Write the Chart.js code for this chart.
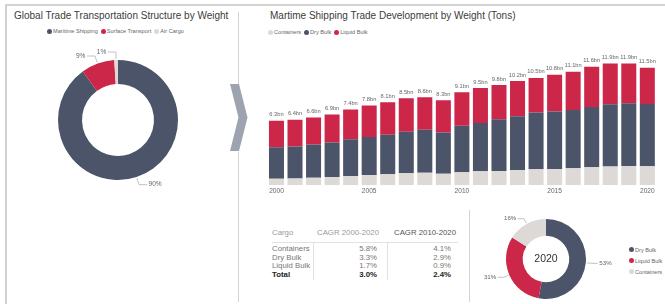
<!DOCTYPE html>
<html>
<head>
<meta charset="utf-8">
<script src="https://cdn.jsdelivr.net/npm/chart.js@4/dist/chart.umd.min.js"></script>
<style>
  html,body{margin:0;padding:0;background:#fff;}
  body{width:665px;height:304px;position:relative;overflow:hidden;font-family:"Liberation Sans",Arial,sans-serif;}
  .abs{position:absolute;}
  .title{font-size:10px;color:#3c3c3c;white-space:nowrap;}
  .leg{font-size:5.6px;color:#666;white-space:nowrap;display:flex;align-items:center;}
  .dot{display:inline-block;width:5px;height:5px;border-radius:50%;margin-right:1px;}
  .legitem{display:flex;align-items:center;margin-right:3px;}
  .cell{position:absolute;font-size:7.8px;white-space:nowrap;height:10px;line-height:10px;}
  canvas{position:absolute;}
</style>
</head>
<body>
<!-- frame lines -->
<div class="abs" style="left:5px;top:4px;width:660px;height:2px;background:#d2d2d2;"></div>
<div class="abs" style="left:5px;top:4px;width:2px;height:300px;background:#d2d2d2;"></div>
<div class="abs" style="left:238px;top:12px;width:1px;height:72px;background:#d4d4d4;"></div>
<div class="abs" style="left:238px;top:152px;width:1px;height:150px;background:#d4d4d4;"></div>
<div class="abs" style="left:469px;top:210px;width:1px;height:92px;background:#d4d4d4;"></div>
<svg class="abs" style="left:0;top:0;" width="665" height="304">
  <polygon points="230,84 239,84 247.5,117.5 239,151 230,151 238.5,117.5" fill="#9da4b0"/>
</svg>

<div class="abs title" style="left:14px;top:10px;">Global Trade Transportation Structure by Weight</div>
<div class="abs leg" id="legLeft" style="left:47px;top:28px;"></div>
<div class="abs title" style="left:270px;top:10px;">Martime Shipping Trade Development by Weight (Tons)</div>
<div class="abs leg" id="legBar" style="left:268px;top:29px;"></div>
<div class="abs leg" id="legPie2" style="left:629px;top:244px;flex-direction:column;align-items:flex-start;"></div>
<div id="table"></div>

<canvas id="pieLeft" width="180" height="160" style="left:28px;top:40px;"></canvas>
<canvas id="bars" width="410" height="160" style="left:255px;top:40px;"></canvas>
<canvas id="pie2020" width="140" height="100" style="left:476px;top:209px;"></canvas>

<script>
// ---------- DATA ----------
const modeLabels = ['Maritime Shipping', 'Surface Transport', 'Air Cargo'];
const modeShares = [90, 9, 1];

const years = ['2000','2001','2002','2003','2004','2005','2006','2007','2008','2009','2010',
               '2011','2012','2013','2014','2015','2016','2017','2018','2019','2020'];
const containers = [0.59,0.62,0.69,0.78,0.88,0.98,1.05,1.14,1.18,1.08,1.23,
                    1.34,1.37,1.47,1.54,1.57,1.63,1.73,1.80,1.86,1.84];
const dryBulk    = [3.10,3.14,3.27,3.37,3.59,3.73,3.86,4.08,4.22,4.05,4.58,
                    4.74,5.07,5.26,5.56,5.62,5.72,5.92,6.11,6.14,6.10];
const liquidBulk = [2.61,2.64,2.64,2.75,2.93,3.09,3.19,3.28,3.20,3.17,3.29,
                    3.42,3.36,3.47,3.40,3.61,3.75,3.95,3.99,3.90,3.56];
const totalLabels = ['6.3bn','6.4bn','6.6bn','6.9bn','7.4bn','7.8bn','8.1bn','8.5bn','8.6bn','8.3bn','9.1bn',
                     '9.5bn','9.8bn','10.2bn','10.5bn','10.8bn','11.1bn','11.6bn','11.9bn','11.9bn','11.5bn'];
const shownYears = ['2000','2005','2010','2015','2020'];

const cargoLabels2020 = ['Dry Bulk', 'Liquid Bulk', 'Containers'];
const cargoShares2020 = [53, 31, 16];
const centerLabel = '2020';

const tableHeader = ['Cargo', 'CAGR 2000-2020', 'CAGR 2010-2020'];
const tableCargo  = ['Containers', 'Dry Bulk', 'Liquid Bulk', 'Total'];
const cagr0020    = ['5.8%', '3.3%', '1.7%', '3.0%'];
const cagr1020    = ['4.1%', '2.9%', '0.9%', '2.4%'];

// ---------- STYLE ----------
const C_DARK = '#4b5469', C_RED = '#cc2749', C_LIGHT = '#dcd9d6';
const FONT = '"Liberation Sans", Arial, sans-serif';
const modeColors = [C_DARK, C_RED, C_LIGHT];
const cargoColors = {'Containers': C_LIGHT, 'Dry Bulk': C_DARK, 'Liquid Bulk': C_RED};

// ---------- legends ----------
function legend(el, labels, colors) {
  labels.forEach((l, i) => {
    const it = document.createElement('span'); it.className = 'legitem';
    const d = document.createElement('span'); d.className = 'dot'; d.style.background = colors[i];
    it.appendChild(d); it.appendChild(document.createTextNode(l));
    el.appendChild(it);
  });
}
legend(document.getElementById('legLeft'), modeLabels, modeColors);
legend(document.getElementById('legBar'), ['Containers','Dry Bulk','Liquid Bulk'], [C_LIGHT, C_DARK, C_RED]);
const lp2 = document.getElementById('legPie2');
legend(lp2, cargoLabels2020, cargoLabels2020.map(l => cargoColors[l]));
lp2.querySelectorAll('.legitem').forEach(e => { e.style.height = '11.2px'; });

// ---------- table ----------
(function(){
  const t = document.getElementById('table');
  function cell(txt, left, width, cy, align, color, bold) {
    const d = document.createElement('div'); d.className = 'cell';
    d.textContent = txt;
    d.style.left = left + 'px'; d.style.width = width + 'px';
    d.style.top = (cy - 5) + 'px'; d.style.textAlign = align; d.style.color = color;
    if (bold) d.style.fontWeight = 'bold';
    t.appendChild(d);
  }
  cell(tableHeader[0], 272, 40, 233.3, 'left', '#9a9a9a');
  cell(tableHeader[1], 309, 70, 233.3, 'right', '#9a9a9a');
  cell(tableHeader[2], 386, 70, 233.3, 'right', '#555');
  const ys = [249, 257.7, 266.3, 275];
  tableCargo.forEach((c, i) => {
    const last = i === tableCargo.length - 1;
    const col = last ? '#222' : '#777';
    cell(c, 272, 40, ys[i], 'left', col, last);
    cell(cagr0020[i], 317, 60, ys[i], 'right', col, last);
    cell(cagr1020[i], 391, 60, ys[i], 'right', col, last);
  });
  const line = (l,tp,w,h) => { const d=document.createElement('div'); d.className='abs';
    Object.assign(d.style,{left:l+'px',top:tp+'px',width:w+'px',height:h+'px',background:'#e2e2e2'}); t.appendChild(d); };
  line(272, 242, 186, 1);
  line(313, 243, 1, 37);
  line(387, 243, 1, 37);
})();

// ---------- plugins ----------
const leaderPlugin = {
  id: 'leaders',
  afterDatasetsDraw(chart, args, opts) {
    const ctx = chart.ctx;
    const meta = chart.getDatasetMeta(0);
    const vals = chart.data.datasets[0].data;
    ctx.save();
    ctx.strokeStyle = '#a8a8a8'; ctx.lineWidth = 0.7;
    ctx.fillStyle = '#666'; ctx.font = opts.fontSize + 'px ' + FONT;
    ctx.textBaseline = 'middle';
    meta.data.forEach((arc, i) => {
      const p = arc.getProps(['x','y','startAngle','endAngle','outerRadius'], true);
      const mid = (p.startAngle + p.endAngle) / 2;
      const r0 = p.outerRadius + 1, r1 = p.outerRadius + opts.radial;
      const x0 = p.x + Math.cos(mid) * r0, y0 = p.y + Math.sin(mid) * r0;
      const x1 = p.x + Math.cos(mid) * r1, y1 = p.y + Math.sin(mid) * r1;
      const dir = Math.cos(mid) >= 0 ? 1 : -1;
      const x2 = x1 + dir * opts.horiz;
      ctx.beginPath(); ctx.moveTo(x0, y0); ctx.lineTo(x1, y1); ctx.lineTo(x2, y1); ctx.stroke();
      ctx.textAlign = dir > 0 ? 'left' : 'right';
      ctx.fillText(vals[i] + '%', x2 + dir * 1.5, y1);
    });
    ctx.restore();
  }
};
const centerTextPlugin = {
  id: 'centerText',
  afterDatasetsDraw(chart, args, opts) {
    if (!opts.text) return;
    const ctx = chart.ctx, arc = chart.getDatasetMeta(0).data[0];
    ctx.save();
    ctx.font = opts.size + 'px ' + FONT; ctx.fillStyle = '#333';
    ctx.textAlign = 'center'; ctx.textBaseline = 'middle';
    ctx.fillText(opts.text, arc.x, arc.y);
    ctx.restore();
  }
};
const totalsPlugin = {
  id: 'totals',
  afterDatasetsDraw(chart) {
    const ctx = chart.ctx;
    const meta = chart.getDatasetMeta(chart.data.datasets.length - 1);
    ctx.save();
    ctx.font = '5.7px ' + FONT; ctx.fillStyle = '#666';
    ctx.textAlign = 'center'; ctx.textBaseline = 'middle';
    meta.data.forEach((bar, i) => ctx.fillText(totalLabels[i], bar.x, bar.y - 6));
    ctx.restore();
  }
};

// ---------- charts ----------
new Chart(document.getElementById('pieLeft'), {
  type: 'doughnut',
  data: { labels: modeLabels, datasets: [{ data: modeShares, backgroundColor: modeColors, borderWidth: 0 }] },
  options: {
    responsive: false, animation: false, cutout: '60%',
    layout: { padding: 20 },
    plugins: { legend: { display: false }, tooltip: { enabled: false },
               leaders: { radial: 8, horiz: 8, fontSize: 6.6 }, centerText: {} }
  },
  plugins: [leaderPlugin, centerTextPlugin]
});

new Chart(document.getElementById('bars'), {
  type: 'bar',
  data: {
    labels: years,
    datasets: [
      { label: 'Containers', data: containers, backgroundColor: C_LIGHT },
      { label: 'Dry Bulk', data: dryBulk, backgroundColor: C_DARK },
      { label: 'Liquid Bulk', data: liquidBulk, backgroundColor: C_RED }
    ]
  },
  options: {
    responsive: false, animation: false,
    layout: { padding: { left: 12.2, right: 8.4, top: 12.4, bottom: 3.2 } },
    datasets: { bar: { categoryPercentage: 0.81, barPercentage: 1, borderWidth: 0 } },
    scales: {
      x: { stacked: true, grid: { display: false, drawTicks: false }, border: { display: false },
           ticks: { autoSkip: false, maxRotation: 0, padding: 2, color: '#666',
                    font: { size: 6.6, family: FONT },
                    callback: (v, i) => shownYears.includes(years[i]) ? years[i] : '' } },
      y: { stacked: true, display: false, min: 0, max: 13 }
    },
    plugins: { legend: { display: false }, tooltip: { enabled: false } }
  },
  plugins: [totalsPlugin]
});

new Chart(document.getElementById('pie2020'), {
  type: 'doughnut',
  data: { labels: cargoLabels2020, datasets: [{ data: cargoShares2020,
          backgroundColor: cargoLabels2020.map(l => cargoColors[l]), borderWidth: 0 }] },
  options: {
    responsive: false, animation: false, cutout: '58%',
    layout: { padding: { left: 20, right: 20, top: 10, bottom: 10 } },
    plugins: { legend: { display: false }, tooltip: { enabled: false },
               leaders: { radial: 6, horiz: 6, fontSize: 6.2 }, centerText: { text: centerLabel, size: 10.5 } }
  },
  plugins: [leaderPlugin, centerTextPlugin]
});
</script>
</body>
</html>
